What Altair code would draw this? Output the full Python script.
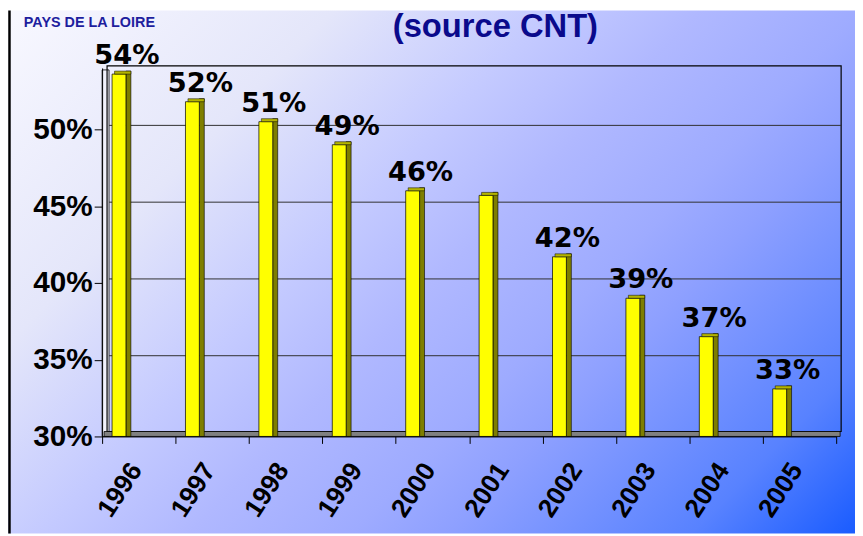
import altair as alt
import pandas as pd

# ---- data ----
years = ["1996", "1997", "1998", "1999", "2000", "2001", "2002", "2003", "2004", "2005"]
values = [53.6, 51.8, 50.5, 49.0, 46.0, 45.7, 41.7, 39.0, 36.5, 33.1]
labels = ["54%", "52%", "51%", "49%", "46%", "", "42%", "39%", "37%", "33%"]
y_ticks = [30, 35, 40, 45, 50]
grid_levels = [35, 40, 45, 50]
title_text = "(source CNT)"
org_text = "PAYS DE LA LOIRE"

W, H = 741, 372
PAD = {"left": 95, "top": 58, "right": 19, "bottom": 98}
FONT = "Liberation Sans"

df = pd.DataFrame({"year": years, "value": values, "label": labels})
grid_df = pd.DataFrame({"level": grid_levels})
one = pd.DataFrame({"k": [0]})

x_scale = alt.Scale(paddingInner=0, paddingOuter=0)
y_scale = alt.Scale(domain=[30, 54], nice=False, zero=False)

x_axis = alt.Axis(
    title=None, labelAngle=-57, labelAlign="right", labelBaseline="top",
    labelFont=FONT, labelFontSize=26.5, labelFontWeight="bold", labelColor="black",
    labelOffset=-14, labelPadding=15, tickBand="extent", tickSize=7,
    tickColor="black", domainColor="black", domainWidth=1, grid=False, zindex=1,
)
y_axis = alt.Axis(
    values=y_ticks, labelExpr="datum.value + '%'", title=None,
    labelFont=FONT, labelFontSize=30, labelFontWeight="bold", labelColor="black",
    tickSize=8, labelPadding=2, tickColor="black", domainColor="black",
    domainWidth=1, grid=False, zindex=1,
)
x_enc = alt.X("year:O", scale=x_scale, axis=x_axis)
y_enc = alt.Y("value:Q", scale=y_scale, axis=y_axis)

stops = [
    (0.0, "#f8f8ff"), (0.24, "#e4e6fa"), (0.40, "#c4caff"), (0.51, "#b0b8ff"),
    (0.63, "#9eabff"), (0.70, "#8ea0ff"), (0.82, "#6a8cff"), (0.88, "#5882ff"),
    (1.0, "#1a5cff"),
]
bg = alt.Chart(one).mark_rect(
    fill=alt.LinearGradient(
        gradient="linear", x1=0, y1=0, x2=1.175, y2=0.709,
        stops=[alt.GradientStop(offset=o, color=c) for o, c in stops],
    ),
    strokeWidth=0,
).encode(
    x=alt.value(-PAD["left"]), x2=alt.value(W + PAD["right"]),
    y=alt.value(-PAD["top"]), y2=alt.value(H + PAD["bottom"]),
)

left_wall = alt.Chart(one).mark_rect(fill="#f2f2fc", stroke="black", strokeWidth=0.8).encode(
    x=alt.value(0), x2=alt.value(7), y=alt.value(2), y2=alt.value(H)
)
back_wall = alt.Chart(one).mark_rect(fillOpacity=0, stroke="black", strokeWidth=1.2).encode(
    x=alt.value(5), x2=alt.value(W + 5), y=alt.value(-2), y2=alt.value(H - 5)
)
grid = alt.Chart(grid_df).mark_rule(color="#303030", strokeWidth=1, yOffset=-4).encode(
    y=alt.Y("level:Q", scale=y_scale, axis=y_axis), x=alt.value(7), x2=alt.value(W + 5)
)
floor = alt.Chart(one).mark_rect(fill="#808080", stroke="black", strokeWidth=0.8).encode(
    x=alt.value(2), x2=alt.value(W + 4), y=alt.value(H - 5), y2=alt.value(H)
)

side = alt.Chart(df).mark_bar(
    size=5, xOffset=-10.5, yOffset=-3, color="#7e7e00", stroke="black", strokeWidth=0.6
).encode(x=x_enc, y=y_enc, y2=alt.datum(30))

front = alt.Chart(df).mark_bar(
    size=14, xOffset=-20, color="#ffff00", stroke="black", strokeWidth=0.7
).encode(x=x_enc, y=y_enc, y2=alt.datum(30))

top = alt.Chart(df).mark_tick(
    orient="horizontal", size=16.5, thickness=3, xOffset=-16.25, yOffset=-1.5,
    color="#b4b400", stroke="black", strokeWidth=0.5, opacity=1,
).encode(x=x_enc, y=y_enc)

text = alt.Chart(df).mark_text(
    dx=-12, dy=-10, baseline="alphabetic", align="center",
    font="DejaVu Sans", fontSize=27.5, fontWeight="bold", color="black",
).encode(x=x_enc, y=y_enc, text="label:N")

title = alt.Chart(one).mark_text(
    text=title_text, font=FONT, fontSize=33, fontWeight="bold", color="#0a0a8c",
    align="center", baseline="alphabetic",
).encode(x=alt.value(397), y=alt.value(-31))
org = alt.Chart(one).mark_text(
    text=org_text, font=FONT, fontSize=14.5, fontWeight="bold", color="#1e1e9e",
    align="left", baseline="alphabetic",
).encode(x=alt.value(-79), y=alt.value(-41))
border = alt.Chart(one).mark_rule(color="black", strokeWidth=2.5).encode(
    x=alt.value(-93.5), y=alt.value(-PAD["top"]), y2=alt.value(H + PAD["bottom"])
)

chart = alt.layer(
    bg, left_wall, back_wall, grid, floor, side, front, top, text,
    title, org, border,
).properties(
    width=W, height=H, padding=PAD, autosize=alt.AutoSizeParams(type="none"),
).configure_view(stroke=None)

chart.save("out.html", embed_options={"renderer": "svg", "actions": False})
